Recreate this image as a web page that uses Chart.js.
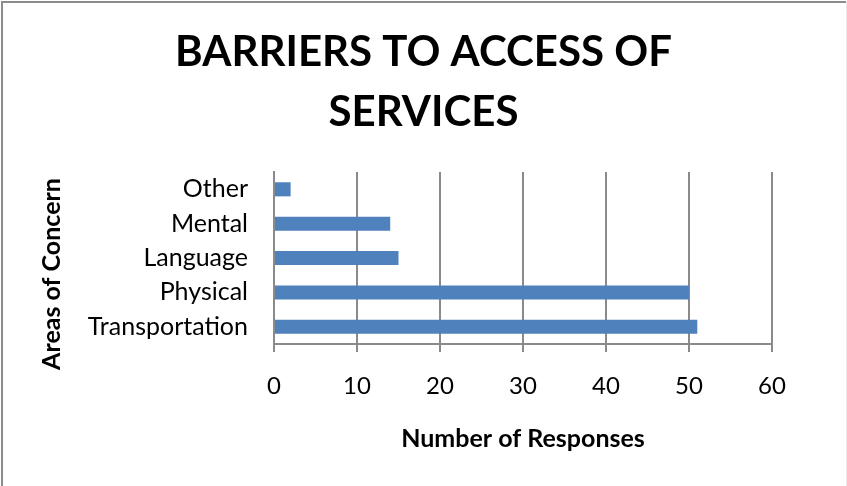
<!DOCTYPE html>
<html>
<head>
<meta charset="utf-8">
<style>
  html, body { margin: 0; padding: 0; background: #ffffff; }
  #wrap { width: 847px; height: 486px; }
</style>
<script src="https://cdn.jsdelivr.net/npm/chart.js@4.4.1/dist/chart.umd.min.js"></script>
</head>
<body>
<div id="wrap"><canvas id="chart" width="847" height="486"></canvas></div>
<script>
// Survey results: barriers reported when accessing services
const categories = ['Transportation', 'Physical', 'Language', 'Mental', 'Other'];
const responses = [51, 50, 15, 14, 2];
const xTicks = [0, 10, 20, 30, 40, 50, 60];

const chartTitle = ['BARRIERS TO ACCESS OF', 'SERVICES'];
const xAxisTitle = 'Number of Responses';
const yAxisTitle = 'Areas of Concern';

const GRID = '#8a8a8a';
const FONT = 'Lato, "Open Sans", "DejaVu Sans", sans-serif';

// White page with the frame along the left and top edges
const framePlugin = {
  id: 'frame',
  beforeDraw(chart) {
    const { ctx, width, height } = chart;
    ctx.save();
    ctx.fillStyle = '#ffffff';
    ctx.fillRect(0, 0, width, height);
    ctx.strokeStyle = '#8c8c8c';
    ctx.lineWidth = 2;
    ctx.beginPath();
    ctx.moveTo(2, height);
    ctx.lineTo(2, 2);
    ctx.lineTo(width - 1, 2);
    ctx.stroke();
    ctx.strokeStyle = '#ececec';
    ctx.lineWidth = 1;
    ctx.beginPath();
    ctx.moveTo(width - 0.5, 2);
    ctx.lineTo(width - 0.5, height);
    ctx.stroke();
    ctx.restore();
  }
};

// Vertical axis caption, centred a little below the plot middle
const yCaptionPlugin = {
  id: 'yCaption',
  afterDraw(chart) {
    const { ctx } = chart;
    ctx.save();
    ctx.translate(52, 274);
    ctx.rotate(-Math.PI / 2);
    ctx.font = 'bold 25px ' + FONT;
    ctx.fillStyle = '#000000';
    ctx.textAlign = 'center';
    ctx.textBaseline = 'middle';
    ctx.fillText(yAxisTitle, 0, 0);
    ctx.restore();
  }
};

new Chart(document.getElementById('chart'), {
  type: 'bar',
  data: {
    labels: categories,
    datasets: [{
      data: responses,
      backgroundColor: '#4F81BD',
      borderColor: '#4F81BD',
      borderWidth: 0,
      barPercentage: 0.41,
      categoryPercentage: 1.0
    }]
  },
  options: {
    indexAxis: 'y',
    responsive: false,
    animation: false,
    devicePixelRatio: 1,
    layout: { padding: { left: 0, right: 0, top: 0, bottom: 0 } },
    plugins: {
      legend: { display: false },
      tooltip: { enabled: false },
      title: {
        display: true,
        text: chartTitle,
        color: '#000000',
        font: { family: FONT, size: 42, weight: 'bold', lineHeight: 1.43 },
        padding: { top: 22, bottom: 30 }
      }
    },
    scales: {
      x: {
        type: 'linear',
        min: 0,
        max: 60,
        afterBuildTicks(scale) {
          scale.ticks = xTicks.map(v => ({ value: v }));
        },
        afterFit(scale) { scale.height = 142; },
        grid: {
          color: GRID,
          lineWidth: 2,
          drawTicks: true,
          tickLength: 8,
          tickColor: GRID
        },
        border: { display: true, color: GRID, width: 2 },
        ticks: {
          color: '#000000',
          padding: 20,
          font: { family: FONT, size: 24 },
          maxRotation: 0
        },
        title: {
          display: true,
          text: xAxisTitle,
          color: '#000000',
          font: { family: FONT, size: 25, weight: 'bold', lineHeight: 1.2 },
          padding: { top: 0, bottom: 32 }
        }
      },
      y: {
        type: 'category',
        reverse: true,
        afterFit(scale) { scale.width = 274; },
        grid: { display: false, drawTicks: false },
        border: { display: true, color: GRID, width: 2 },
        ticks: {
          color: '#000000',
          padding: 26,
          font: { family: FONT, size: 25 }
        }
      },
      yRight: {
        type: 'linear',
        position: 'right',
        display: true,
        afterFit(scale) { scale.width = 75; },
        grid: { display: false, drawTicks: false },
        border: { display: false },
        ticks: { display: false }
      }
    }
  },
  plugins: [framePlugin, yCaptionPlugin]
});
</script>
</body>
</html>
